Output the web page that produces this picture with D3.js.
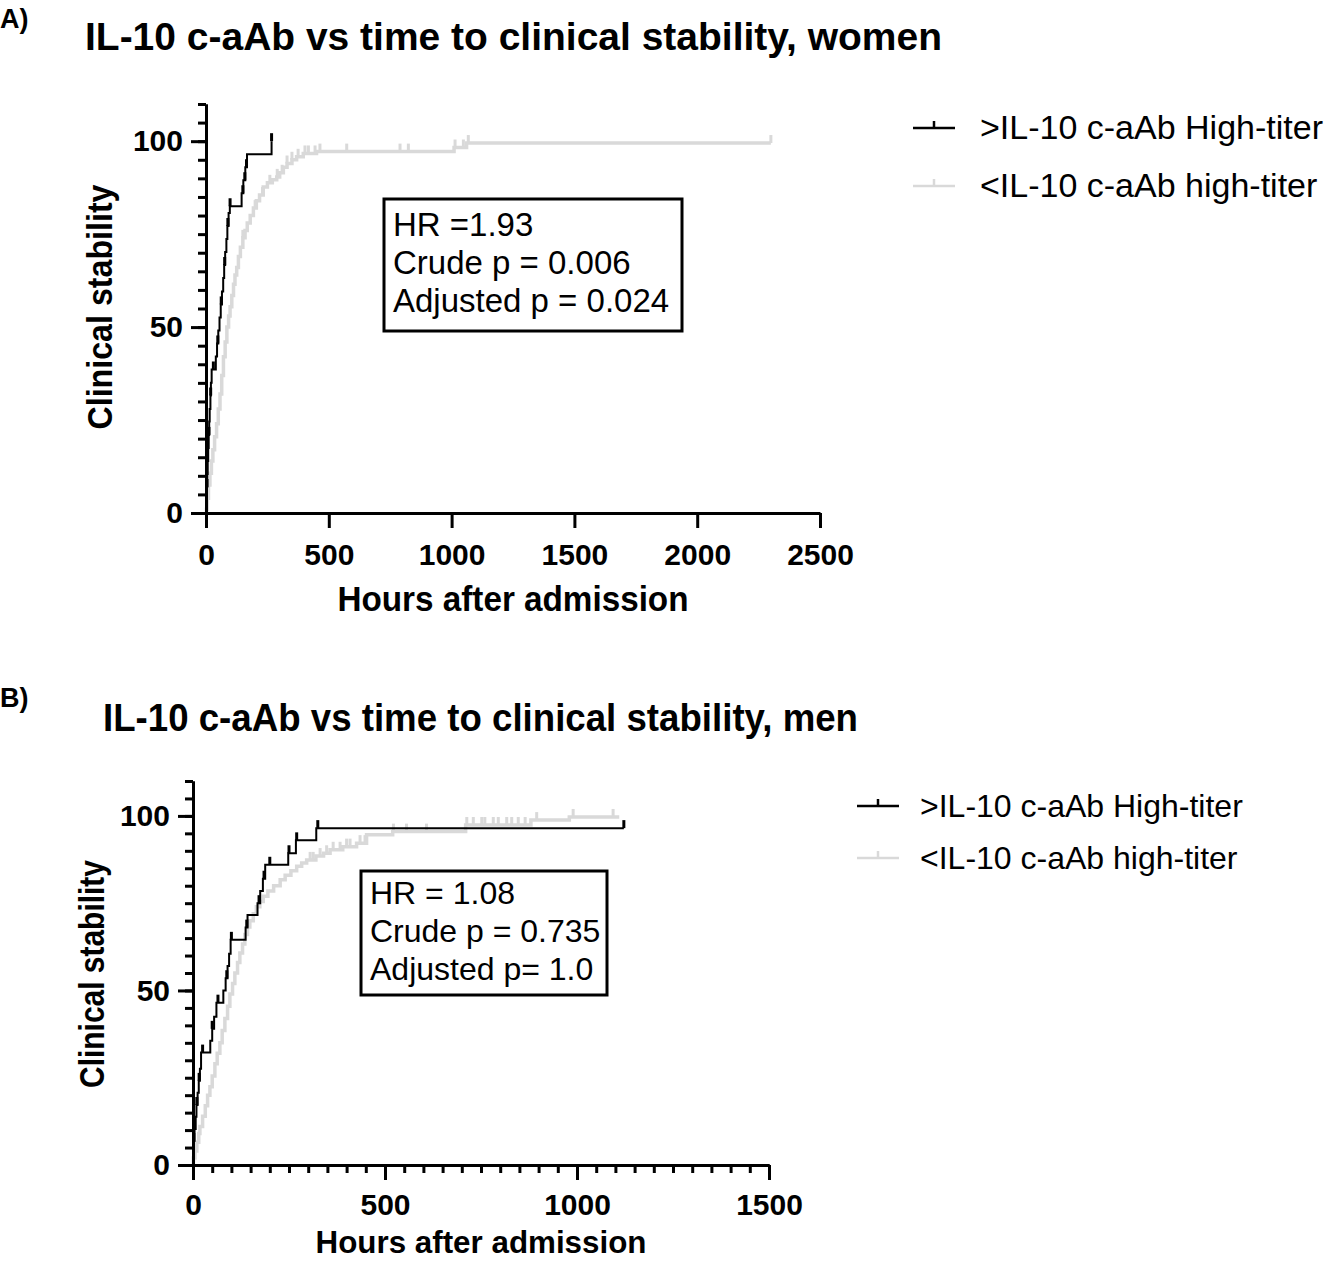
<!DOCTYPE html>
<html>
<head>
<meta charset="utf-8">
<script src="https://cdn.jsdelivr.net/npm/d3@7"></script>
<style>
  body { margin: 0; background: #ffffff; }
  svg { display: block; font-family: "Liberation Sans", Arial, sans-serif; }
  .tick text { font-weight: bold; }
</style>
</head>
<body>
<svg id="chart" width="1325" height="1261"></svg>
<script>
// ---- data: [hours, % clinically stable] after each step ----
var womenHigh = [[0, 0], [1, 3.5], [3, 7], [5, 10.5], [7, 14], [9, 17.5], [11, 21], [13, 24.6], [15, 28], [18, 31.6], [20, 35], [23, 38.6],
  [40, 42.1], [45, 45.6], [50, 49.1], [55, 52.6], [60, 56.1], [65, 59.6], [70, 63.2], [74, 66.7], [78, 70.2], [83, 73.7], [87, 77.2], [92, 80.7], [97, 82.5],
  [145, 86], [152, 89.5], [160, 93], [167, 96.5], [267, 100]];
var womenHighCens = [4, 12, 19, 30, 48, 62, 76, 89, 98, 150, 158, 165, 267];

var womenLow = [[0, 0], [2, 1], [5, 4], [10, 7.5], [16, 10.7], [22, 14], [28, 17], [35, 20.5], [43, 24], [50, 28], [57, 32], [64, 37], [71, 42], [78, 46],
  [85, 50], [92, 53], [98, 55.5], [105, 58.5], [112, 61.5], [118, 64], [125, 66], [132, 69], [140, 71.5], [150, 74], [159, 76], [168, 78], [180, 80],
  [193, 82], [205, 84], [218, 85.5], [233, 87.7], [250, 88.8], [270, 89.6], [288, 90.4], [300, 91.5], [315, 93], [330, 94], [350, 95], [369, 95.8],
  [396, 96.7], [450, 97.2], [1010, 98.3], [1061, 99.5]];
var womenLowCens = [150, 200, 230, 260, 290, 310, 330, 350, 375, 403, 417, 444, 464, 573, 790, 824, 1014, 1048, 1068, 2300];

var menHigh = [[0, 0], [1, 3.4], [2, 6.9], [4, 10.3], [7, 13.8], [9, 17.2], [12, 20.7], [15, 24.1], [18, 27.6], [21, 32.2],
  [45, 35.6], [50, 39], [55, 42.5], [61, 46.5], [79, 50], [85, 53.5], [90, 57], [94, 60.5], [98, 64.5], [137, 68], [142, 71.6],
  [168, 75], [175, 78.5], [182, 82], [188, 86], [248, 89.3], [268, 93], [321, 96.5]];
var menHighCens = [2, 10, 16, 25, 50, 65, 88, 100, 140, 172, 185, 200, 250, 270, 325, 1122];

var menLow = [[0, 0], [1, 2], [5, 4], [10, 6.5], [15, 9], [18, 11], [25, 14], [32, 17], [38, 20], [44, 22.4], [50, 25.5], [57, 29], [63, 32],
  [70, 35], [76, 38.5], [83, 42], [90, 45.5], [96, 49], [103, 52], [109, 55], [116, 58], [122, 60.7], [129, 63.3], [135, 66], [142, 68.2],
  [148, 70], [157, 72], [165, 74], [174, 75.5], [183, 77], [195, 78.5], [210, 80], [227, 81.7], [240, 83], [255, 84.3], [270, 85.6],
  [283, 86.5], [296, 87.4], [320, 88.5], [340, 89.3], [357, 90.3], [390, 91.2], [426, 92.2], [452, 94.6], [520, 95.5], [710, 97.4],
  [880, 98.8], [980, 99.7]];
var menLowCens = [305, 313, 331, 348, 365, 383, 400, 409, 435, 448, 522, 556, 608, 713, 730, 752, 760, 782, 795, 817, 830, 847, 865, 895, 990, 1094];

var seriesNames = [">IL-10 c-aAb High-titer", "<IL-10 c-aAb high-titer"];
var seriesColors = ["#000000", "#d9d9d9"];
var yMajor = [0, 50, 100];
var yMinor = d3.range(0, 111, 5);
var xMajorA = [0, 500, 1000, 1500, 2000, 2500];
var xMajorB = [0, 500, 1000, 1500];
var xMinorB = d3.range(0, 1501, 50);
var statsA = ["HR =1.93", "Crude p = 0.006", "Adjusted p = 0.024"];
var statsB = ["HR = 1.08", "Crude p = 0.735", "Adjusted p= 1.0"];

var svg = d3.select("#chart");

function valueAt(steps, t)
{
	var v = 0;
	for (var i in steps)
	{
		if (steps[i][0] <= t) v = steps[i][1];
	}
	return v;
}

function drawPanel(p)
{
	var x = d3.scaleLinear().domain([0, p.xMax]).range([p.left, p.right]);
	var y = d3.scaleLinear().domain([0, 110]).range([p.bottom, p.top]);
	var g = svg.append("g");

	// panel letter and title
	g.append("text").attr("x", 0).attr("y", p.letterY).attr("font-size", 27).attr("font-weight", "bold").text(p.letter);
	g.append("text").attr("x", p.titleX).attr("y", p.titleY).attr("font-size", 39).attr("font-weight", "bold")
		.attr("textLength", p.titleW).attr("lengthAdjust", "spacingAndGlyphs").text(p.title);

	// curves: low titer (grey) first, high titer (black) on top
	var line = d3.line().x(function(d) { return x(d[0]); }).y(function(d) { return y(d[1]); }).curve(d3.curveStepAfter);
	var curves = [
		{ steps: p.low, cens: p.lowCens, color: seriesColors[1], w: 3.5, end: p.lowEnd },
		{ steps: p.high, cens: p.highCens, color: seriesColors[0], w: 2, end: p.highEnd }
	];
	curves.forEach(function(c)
	{
		var pts = c.steps.slice();
		pts.push([c.end, pts[pts.length - 1][1]]);
		g.append("path").attr("d", line(pts)).attr("fill", "none").attr("stroke", c.color).attr("stroke-width", c.w);
		g.selectAll(null).data(c.cens).enter().append("line")
			.attr("x1", function(d) { return x(d); }).attr("x2", function(d) { return x(d); })
			.attr("y1", function(d) { return y(valueAt(c.steps, d)); })
			.attr("y2", function(d) { return y(valueAt(c.steps, d)) - 8; })
			.attr("stroke", c.color).attr("stroke-width", 3);
	});

	// axes
	var fmt = d3.format("d");
	var yMin = g.append("g").attr("transform", "translate(" + p.left + ",0)")
		.call(d3.axisLeft(y).tickValues(yMinor).tickFormat("").tickSize(8).tickSizeOuter(0));
	var yAx = g.append("g").attr("transform", "translate(" + p.left + ",0)")
		.call(d3.axisLeft(y).tickValues(yMajor).tickFormat(fmt).tickSize(15).tickPadding(p.yPad).tickSizeOuter(0));
	var xg = [];
	if (p.xMinor)
	{
		xg.push(g.append("g").attr("transform", "translate(0," + p.bottom + ")")
			.call(d3.axisBottom(x).tickValues(p.xMinor).tickFormat("").tickSize(8).tickSizeOuter(0)));
	}
	xg.push(g.append("g").attr("transform", "translate(0," + p.bottom + ")")
		.call(d3.axisBottom(x).tickValues(p.xMajor).tickFormat(fmt).tickSize(15).tickPadding(p.xPad).tickSizeOuter(0)));
	[yMin, yAx].concat(xg).forEach(function(a)
	{
		a.selectAll("path, line").attr("stroke", "#000").attr("stroke-width", 3);
		a.selectAll("text").attr("font-size", 30).attr("fill", "#000")
			.attr("font-family", "'Liberation Sans', Arial, sans-serif");
	});

	// axis titles
	g.append("text").attr("transform", "translate(" + p.yLabX + "," + p.yLabY + ") rotate(-90)")
		.attr("text-anchor", "middle").attr("font-size", 35).attr("font-weight", "bold")
		.attr("textLength", p.yLabW).attr("lengthAdjust", "spacingAndGlyphs").text("Clinical stability");
	g.append("text").attr("x", p.xLabX).attr("y", p.xLabY)
		.attr("text-anchor", "middle").attr("font-size", p.xLabFont).attr("font-weight", "bold")
		.attr("textLength", p.xLabW).attr("lengthAdjust", "spacingAndGlyphs").text("Hours after admission");

	// stats box
	g.append("rect").attr("x", p.box[0]).attr("y", p.box[1]).attr("width", p.box[2]).attr("height", p.box[3])
		.attr("fill", "#fff").attr("stroke", "#000").attr("stroke-width", 3);
	g.selectAll(null).data(p.stats).enter().append("text")
		.attr("x", p.box[0] + 9).attr("y", function(d, i) { return p.boxText + i * 38; })
		.attr("font-size", p.boxFont).text(function(d) { return d; });

	// legend
	seriesNames.forEach(function(n, i)
	{
		var ly = p.legY + i * p.legGap;
		g.append("line").attr("x1", p.legX).attr("x2", p.legX + 42).attr("y1", ly).attr("y2", ly)
			.attr("stroke", seriesColors[i]).attr("stroke-width", 2.5);
		g.append("line").attr("x1", p.legX + 21).attr("x2", p.legX + 21).attr("y1", ly).attr("y2", ly - 7)
			.attr("stroke", seriesColors[i]).attr("stroke-width", 2.5);
		g.append("text").attr("x", p.legX + p.legTextDx).attr("y", ly + 11).attr("font-size", p.legFont).text(n);
	});
}

drawPanel({
	letter: "A)", letterY: 28, title: "IL-10 c-aAb vs time to clinical stability, women", titleX: 85, titleY: 50, titleW: 857,
	xMax: 2500, left: 206, right: 820, bottom: 513, top: 104, xMajor: xMajorA, xMinor: null, xPad: 16, yPad: 8,
	high: womenHigh, highCens: womenHighCens, highEnd: 267, low: womenLow, lowCens: womenLowCens, lowEnd: 2300,
	yLabX: 112, yLabY: 307, yLabW: 245, xLabX: 513, xLabY: 611, xLabW: 351, xLabFont: 35,
	box: [384, 199, 298, 132], boxText: 236, boxFont: 33, stats: statsA,
	legX: 913, legY: 128, legGap: 58, legTextDx: 67, legFont: 34
});

drawPanel({
	letter: "B)", letterY: 707, title: "IL-10 c-aAb vs time to clinical stability, men", titleX: 103, titleY: 731, titleW: 755,
	xMax: 1500, left: 193, right: 769, bottom: 1165, top: 781, xMajor: xMajorB, xMinor: xMinorB, xPad: 14, yPad: 8,
	high: menHigh, highCens: menHighCens, highEnd: 1122, low: menLow, lowCens: menLowCens, lowEnd: 1110,
	yLabX: 104, yLabY: 974, yLabW: 228, xLabX: 481, xLabY: 1253, xLabW: 331, xLabFont: 32,
	box: [361, 871, 246, 124], boxText: 904, boxFont: 32, stats: statsB,
	legX: 857, legY: 806, legGap: 52, legTextDx: 63, legFont: 32
});
</script>
</body>
</html>
